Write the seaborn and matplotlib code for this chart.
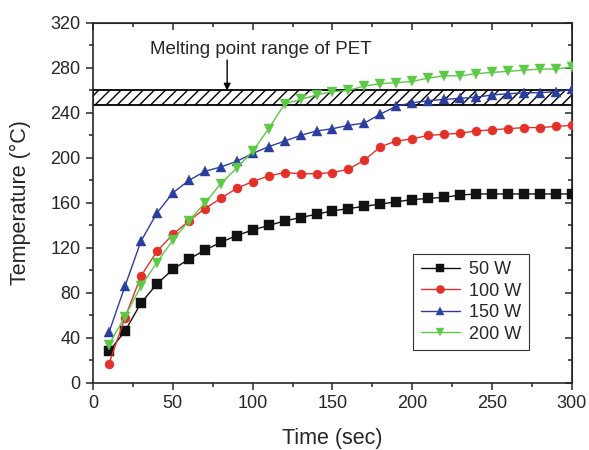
import pandas as pd
import numpy as np
import matplotlib
matplotlib.use("Agg")
import matplotlib.pyplot as plt
from matplotlib.ticker import MultipleLocator
import seaborn as sns

# ------------------------------------------
# Data
# ------------------------------------------
time_sec = [10, 20, 30, 40, 50, 60, 70, 80, 90, 100,
            110, 120, 130, 140, 150, 160, 170, 180, 190, 200,
            210, 220, 230, 240, 250, 260, 270, 280, 290, 300]

temp_50w = [28, 46, 71, 88, 101, 110, 118, 125, 131, 136,
            140, 144, 147, 150, 153, 155, 157, 159, 161, 163,
            164, 165, 167, 168, 168, 168, 168, 168, 168, 168]

temp_100w = [17, 58, 95, 117, 132, 144, 155, 164, 173, 179,
             184, 187, 186, 186, 187, 190, 198, 210, 215, 217,
             220, 221, 222, 224, 225, 226, 227, 227, 228, 229]

temp_150w = [45, 86, 126, 151, 169, 180, 188, 192, 197, 204,
             210, 215, 220, 224, 226, 229, 231, 239, 246, 249,
             251, 252, 253, 254, 256, 257, 258, 258, 259, 261]

temp_200w = [34, 59, 86, 107, 127, 144, 160, 177, 191, 206,
             226, 248, 252, 256, 259, 260, 264, 266, 267, 268,
             271, 273, 273, 275, 276, 277, 278, 279, 279, 281]

series_labels = ["50 W", "100 W", "150 W", "200 W"]
series_colors = ["#111111", "#E3312A", "#2B3E9E", "#5CC947"]
series_markers = ["s", "o", "^", "v"]

melt_low = 247
melt_high = 260

# ------------------------------------------
# Long-form table for seaborn
# ------------------------------------------
frames = []
for lab, vals in zip(series_labels, [temp_50w, temp_100w, temp_150w, temp_200w]):
    frames.append(pd.DataFrame({"time": time_sec, "temp": vals, "power": lab}))
df = pd.concat(frames, ignore_index=True)

# ------------------------------------------
# Plot
# ------------------------------------------
sns.set_style("ticks")
plt.rcParams["font.family"] = ["Liberation Sans", "DejaVu Sans"]
plt.rcParams["hatch.linewidth"] = 1.0

fig = plt.figure(figsize=(5.89, 4.5), dpi=100)
ax = fig.add_axes([0.158, 0.149, 0.813, 0.80])

# melting range band
ax.axhspan(melt_low, melt_high, facecolor="white", edgecolor="black",
           hatch="///", linewidth=1.3, zorder=1)

for lab, col, mk in zip(series_labels, series_colors, series_markers):
    sub = df[df["power"] == lab]
    sns.lineplot(data=sub, x="time", y="temp", ax=ax, color=col, marker=mk,
                 markersize=6.5, markeredgewidth=0.3, markeredgecolor=col,
                 linewidth=1.0, label=lab, zorder=3)

ax.text(105, 296, "Melting point range of PET", ha="center", va="center",
        fontsize=13.5)
ax.annotate("", xy=(84, melt_high), xytext=(84, 287),
            arrowprops=dict(arrowstyle="-|>", color="black", lw=1.0,
                            shrinkA=0, shrinkB=0, mutation_scale=10))

ax.set_xlim(0, 300)
ax.set_ylim(0, 320)
ax.xaxis.set_major_locator(MultipleLocator(50))
ax.xaxis.set_minor_locator(MultipleLocator(25))
ax.yaxis.set_major_locator(MultipleLocator(40))
ax.yaxis.set_minor_locator(MultipleLocator(20))
# outward ticks on bottom/left, inward on top/right
ax.tick_params(which="both", direction="out", bottom=True, left=True,
               labelsize=13, width=1.1, pad=4)
ax.tick_params(which="major", length=5)
ax.tick_params(which="minor", length=3)
top = ax.secondary_xaxis("top")
top.xaxis.set_major_locator(MultipleLocator(50))
top.xaxis.set_minor_locator(MultipleLocator(25))
top.tick_params(which="both", direction="in", labeltop=False, width=1.1)
top.tick_params(which="major", length=5)
top.tick_params(which="minor", length=3)
right = ax.secondary_yaxis("right")
right.yaxis.set_major_locator(MultipleLocator(40))
right.yaxis.set_minor_locator(MultipleLocator(20))
right.tick_params(which="both", direction="in", labelright=False, width=1.1)
right.tick_params(which="major", length=5)
right.tick_params(which="minor", length=3)
for sp in ax.spines.values():
    sp.set_linewidth(1.2)

ax.set_xlabel("Time (sec)", fontsize=15.5, labelpad=11)
ax.set_ylabel("Temperature (°C)", fontsize=15.5, labelpad=14)

leg = ax.legend(loc="lower right", bbox_to_anchor=(0.91, 0.092), fontsize=13,
                frameon=True, fancybox=False, edgecolor="black", borderaxespad=0,
                handlelength=2.2, borderpad=0.4, labelspacing=0.25,
                handletextpad=0.5, markerscale=0.9)
leg.get_frame().set_linewidth(0.8)

plt.savefig("out.png", dpi=100)
